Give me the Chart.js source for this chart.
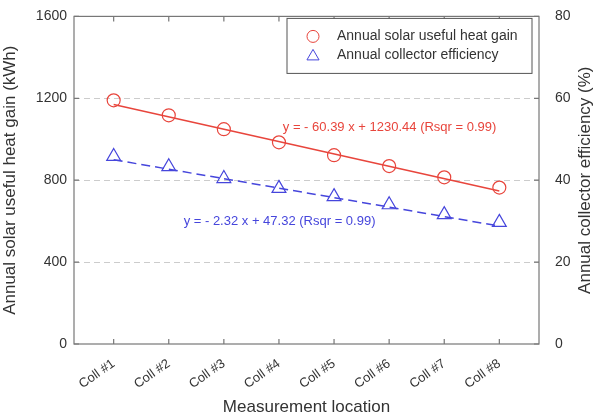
<!DOCTYPE html>
<html>
<head>
<meta charset="utf-8">
<script src="https://cdn.jsdelivr.net/npm/chart.js@4.4.0/dist/chart.umd.min.js"></script>
<style>
  html, body { margin: 0; padding: 0; background: #fff; }
  #wrap { width: 599px; height: 418px; }
</style>
</head>
<body>
<div id="wrap"><canvas id="chart"></canvas></div>
<script>
// --- Data ---
const locations = ['Coll #1', 'Coll #2', 'Coll #3', 'Coll #4', 'Coll #5', 'Coll #6', 'Coll #7', 'Coll #8'];
const heatGain = [1190, 1117, 1049, 985, 922, 869, 814, 764];          // kWh
const efficiency = [45.8, 43.3, 40.4, 38.0, 36.0, 34.0, 31.6, 29.7];     // %
// fitted lines, end points at Coll #1 and Coll #8
const heatFit = [1170, 747];
const effFit = [45.0, 28.8];
const heatFitLabel = 'y = - 60.39 x + 1230.44 (Rsqr = 0.99)';
const effFitLabel = 'y = - 2.32 x + 47.32 (Rsqr = 0.99)';
const rightTitle = 'Annual collector efficiency (%)';

const red = '#e8453c';
const blue = '#4646dc';
const textColor = '#333333';
const axisColor = '#777777';
const FONT = "'Liberation Sans', Arial, sans-serif";

Chart.defaults.font.family = FONT;
Chart.defaults.color = textColor;

const fitX = [1, locations.length];

// frame, inward ticks, legend, fit labels and right axis title
const decorations = {
    id: 'decorations',
    afterDatasetsDraw(chart) {
        const { ctx, chartArea: a, scales } = chart;
        ctx.save();
        ctx.strokeStyle = axisColor;
        ctx.lineWidth = 1.2;
        ctx.strokeRect(a.left, a.top, a.right - a.left, a.bottom - a.top);

        // inward tick marks
        ctx.beginPath();
        locations.forEach((_, i) => {
            const px = scales.x.getPixelForValue(i + 1);
            ctx.moveTo(px, a.bottom); ctx.lineTo(px, a.bottom - 5);
            ctx.moveTo(px, a.top); ctx.lineTo(px, a.top + 5);
        });
        scales.y.ticks.forEach(t => {
            const py = scales.y.getPixelForValue(t.value);
            ctx.moveTo(a.left, py); ctx.lineTo(a.left + 5, py);
        });
        scales.y2.ticks.forEach(t => {
            const py = scales.y2.getPixelForValue(t.value);
            ctx.moveTo(a.right, py); ctx.lineTo(a.right - 5, py);
        });
        ctx.stroke();

        // legend box
        const bx = a.right - 252, by = a.top + 2, bw = 245, bh = 55;
        ctx.fillStyle = '#fff';
        ctx.fillRect(bx, by, bw, bh);
        ctx.strokeStyle = '#555';
        ctx.lineWidth = 1;
        ctx.strokeRect(bx, by, bw, bh);

        ctx.lineWidth = 1;
        ctx.strokeStyle = red;
        ctx.beginPath();
        ctx.arc(bx + 26, by + 18, 6, 0, Math.PI * 2);
        ctx.stroke();
        ctx.strokeStyle = blue;
        ctx.beginPath();
        const tx = bx + 26, ty = by + 38, r = 7;
        ctx.moveTo(tx, ty - r);
        ctx.lineTo(tx + r * 0.866, ty + r * 0.5);
        ctx.lineTo(tx - r * 0.866, ty + r * 0.5);
        ctx.closePath();
        ctx.stroke();

        ctx.fillStyle = textColor;
        ctx.font = `14px ${FONT}`;
        ctx.textBaseline = 'middle';
        ctx.textAlign = 'left';
        ctx.fillText('Annual solar useful heat gain', bx + 50, by + 18);
        ctx.fillText('Annual collector efficiency', bx + 50, by + 37);

        // fit labels
        ctx.font = `13px ${FONT}`;
        ctx.fillStyle = red;
        ctx.fillText(heatFitLabel, scales.x.getPixelForValue(4.07), scales.y.getPixelForValue(1059));
        ctx.fillStyle = blue;
        ctx.fillText(effFitLabel, scales.x.getPixelForValue(2.27), scales.y2.getPixelForValue(30));

        // right axis title, reading bottom to top
        ctx.fillStyle = textColor;
        ctx.font = `17px ${FONT}`;
        ctx.textAlign = 'center';
        ctx.translate(scales.y2.right - 14, (a.top + a.bottom) / 2);
        ctx.rotate(-Math.PI / 2);
        ctx.fillText(rightTitle, 0, 0);
        ctx.restore();
    }
};

const gridStyle = {
    drawTicks: false,
    color: ctx => (ctx.tick && (ctx.tick.value === 0 || ctx.tick.value === 1600)) ? 'rgba(0,0,0,0)' : '#cccccc',
    lineWidth: 1
};

new Chart(document.getElementById('chart'), {
    type: 'line',
    data: {
        datasets: [
            {
                label: 'Annual solar useful heat gain',
                data: heatGain.map((v, i) => ({ x: i + 1, y: v })),
                yAxisID: 'y',
                showLine: false,
                pointStyle: 'circle',
                pointRadius: 6.5,
                pointBorderWidth: 1.2,
                pointBorderColor: red,
                pointBackgroundColor: 'rgba(0,0,0,0)',
                borderColor: red
            },
            {
                label: 'Heat gain fit',
                data: fitX.map((x, i) => ({ x, y: heatFit[i] })),
                yAxisID: 'y',
                borderColor: red,
                borderWidth: 1.5,
                pointRadius: 0
            },
            {
                label: 'Annual collector efficiency',
                data: efficiency.map((v, i) => ({ x: i + 1, y: v })),
                yAxisID: 'y2',
                showLine: false,
                pointStyle: 'triangle',
                pointRadius: 8,
                pointBorderWidth: 1.2,
                pointBorderColor: blue,
                pointBackgroundColor: 'rgba(0,0,0,0)',
                borderColor: blue
            },
            {
                label: 'Efficiency fit',
                data: fitX.map((x, i) => ({ x, y: effFit[i] })),
                yAxisID: 'y2',
                borderColor: blue,
                borderWidth: 1.5,
                borderDash: [9, 5],
                pointRadius: 0
            }
        ]
    },
    options: {
        responsive: true,
        maintainAspectRatio: false,
        animation: false,
        layout: { padding: { top: 13, right: 0, left: 0, bottom: 0 } },
        plugins: { legend: { display: false }, tooltip: { enabled: false } },
        scales: {
            x: {
                type: 'linear',
                min: 0.28,
                max: 8.72,
                afterBuildTicks: s => { s.ticks = locations.map((_, i) => ({ value: i + 1 })); },
                afterFit: s => { s.height = 74; },
                grid: { display: false },
                border: { display: false },
                ticks: {
                    autoSkip: false,
                    maxRotation: 35,
                    minRotation: 35,
                    padding: 4,
                    font: { size: 13 },
                    color: textColor,
                    callback: v => locations[v - 1]
                },
                title: {
                    display: true,
                    text: 'Measurement location',
                    font: { size: 17 },
                    color: textColor,
                    padding: { top: 0, bottom: 0 }
                }
            },
            y: {
                position: 'left',
                min: 0,
                max: 1600,
                afterFit: s => { s.width = 74; },
                ticks: { stepSize: 400, padding: 7, font: { size: 14 }, color: textColor, callback: v => String(v) },
                grid: gridStyle,
                border: { display: false, dash: [6, 4] },
                title: {
                    display: true,
                    text: 'Annual solar useful heat gain (kWh)',
                    font: { size: 17 },
                    color: textColor,
                    padding: { top: 0, bottom: 0 }
                }
            },
            y2: {
                position: 'right',
                min: 0,
                max: 80,
                afterFit: s => { s.width = 60; },
                ticks: { stepSize: 20, padding: 8, font: { size: 14 }, color: textColor, callback: v => String(v) },
                grid: { display: false },
                border: { display: false }
            }
        }
    },
    plugins: [decorations]
});
</script>
</body>
</html>
